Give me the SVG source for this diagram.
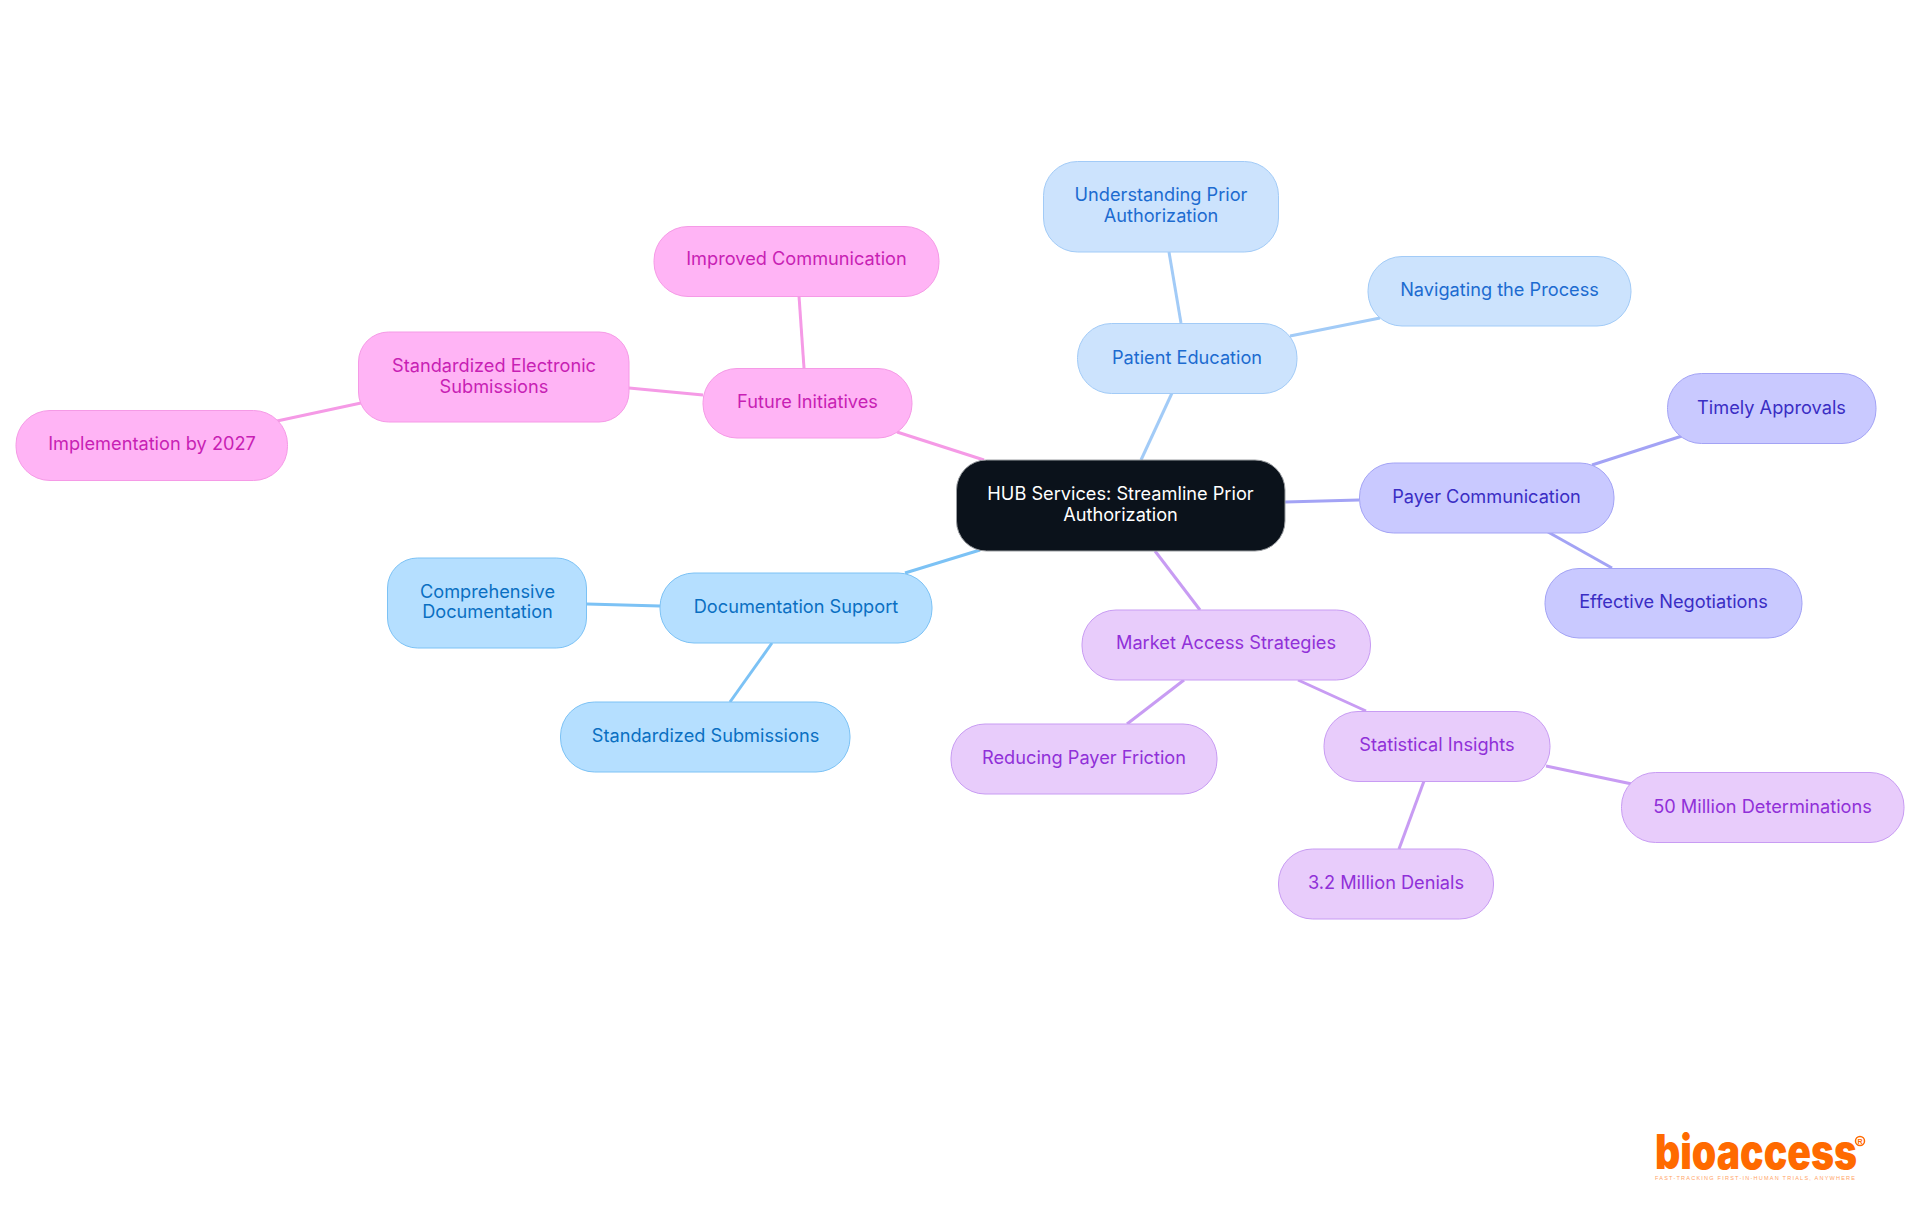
<svg xmlns="http://www.w3.org/2000/svg" width="1920" height="1215" viewBox="0 0 1920 1215">
<style>
text{font-family:"Inter","Noto Sans","Liberation Sans",sans-serif;font-size:18.2px;font-weight:400;text-anchor:middle}
.n rect{stroke-width:1}
#connectors line{stroke-width:3;fill:none}
.blue rect{fill:#cce3fd;stroke:#a2cbf7}.blue text{fill:#1c6bd0}
.ind rect{fill:#c9c9ff;stroke:#a3a3f5}.ind text{fill:#3a2dc4}
.pur rect{fill:#e8ccfb;stroke:#c89cf3}.pur text{fill:#9030d8}
.sky rect{fill:#b5dfff;stroke:#7cc2f5}.sky text{fill:#0a6fc2}
.pnk rect{fill:#ffb4f5;stroke:#f59ae6}.pnk text{fill:#c81fb4}
</style>
<rect width="1920" height="1215" fill="#fff"/>
<g id="connectors">
<g stroke="#a2cbf7"><line x1="1141" y1="460" x2="1172" y2="393"/><line x1="1181" y1="323" x2="1169" y2="252"/><line x1="1290" y1="336" x2="1380" y2="318"/></g>
<g stroke="#a3a3f5"><line x1="1285" y1="502" x2="1359" y2="500"/><line x1="1592" y1="465" x2="1682" y2="436"/><line x1="1548" y1="532" x2="1612" y2="568"/></g>
<g stroke="#c89cf3"><line x1="1155" y1="551" x2="1200" y2="610"/><line x1="1184" y1="680" x2="1127" y2="724"/><line x1="1298" y1="680" x2="1366" y2="711"/><line x1="1424" y1="781" x2="1399" y2="849"/><line x1="1546" y1="766" x2="1632" y2="784"/></g>
<g stroke="#7cc2f5"><line x1="980" y1="550" x2="905" y2="573"/><line x1="660" y1="606" x2="587" y2="604"/><line x1="772" y1="643" x2="730" y2="702"/></g>
<g stroke="#f59ae6"><line x1="984" y1="460" x2="897" y2="432"/><line x1="804" y1="368" x2="799" y2="296"/><line x1="703" y1="395" x2="629" y2="388"/><line x1="361" y1="403" x2="277" y2="421"/></g>
</g>
<g id="root" class="n"><rect x="956.500" y="460" width="328.500" height="91" rx="30" fill="#0b121b" stroke="#9a9da1"/><text fill="#ffffff" x="1120.500" y="499.500">HUB Services: Streamline Prior</text><text fill="#ffffff" x="1120.500" y="520.500">Authorization</text></g>
<g id="patient" class="n blue"><rect x="1077.500" y="323.500" width="219.500" height="70" rx="34"/><text x="1187" y="363.500">Patient Education</text></g>
<g id="understanding" class="n blue"><rect x="1043.500" y="161.500" width="235" height="90.500" rx="34"/><text x="1161" y="200.500">Understanding Prior</text><text x="1161" y="221.500">Authorization</text></g>
<g id="navigating" class="n blue"><rect x="1368" y="256.500" width="263" height="69.500" rx="34"/><text x="1499.500" y="295.500">Navigating the Process</text></g>
<g id="payer" class="n ind"><rect x="1359.500" y="463" width="254.500" height="70" rx="34"/><text x="1486.500" y="502.500">Payer Communication</text></g>
<g id="timely" class="n ind"><rect x="1667.500" y="373.500" width="208.500" height="70" rx="34"/><text x="1771.500" y="413.500">Timely Approvals</text></g>
<g id="effective" class="n ind"><rect x="1545" y="568.500" width="257" height="69.500" rx="34"/><text x="1673.500" y="607.500">Effective Negotiations</text></g>
<g id="market" class="n pur"><rect x="1082" y="610" width="288.500" height="70" rx="34"/><text x="1226" y="648.500">Market Access Strategies</text></g>
<g id="reducing" class="n pur"><rect x="951" y="724" width="266" height="70" rx="34"/><text x="1084" y="763.500">Reducing Payer Friction</text></g>
<g id="statistical" class="n pur"><rect x="1324" y="711.500" width="226" height="70" rx="34"/><text x="1437" y="750.500">Statistical Insights</text></g>
<g id="determinations" class="n pur"><rect x="1621.500" y="772.500" width="282.500" height="70" rx="34"/><text x="1762.500" y="812.500">50 Million Determinations</text></g>
<g id="denials" class="n pur"><rect x="1278.500" y="849" width="215" height="70" rx="34"/><text x="1386" y="888.500">3.2 Million Denials</text></g>
<g id="documentation" class="n sky"><rect x="660" y="573" width="272" height="70" rx="34"/><text x="796" y="612.500">Documentation Support</text></g>
<g id="comprehensive" class="n sky"><rect x="387.500" y="558" width="199" height="90" rx="30"/><text x="487.500" y="597.500">Comprehensive</text><text x="487.500" y="617.500">Documentation</text></g>
<g id="submissions" class="n sky"><rect x="560.500" y="702" width="289.500" height="70" rx="34"/><text x="705.500" y="741.500">Standardized Submissions</text></g>
<g id="future" class="n pnk"><rect x="703" y="368.500" width="209" height="69.500" rx="34"/><text x="807.500" y="407.500">Future Initiatives</text></g>
<g id="improved" class="n pnk"><rect x="654" y="226.500" width="285" height="70" rx="34"/><text x="796.500" y="265">Improved Communication</text></g>
<g id="electronic" class="n pnk"><rect x="358.500" y="332" width="270.500" height="90" rx="30"/><text x="494" y="371.500">Standardized Electronic</text><text x="494" y="392.500">Submissions</text></g>
<g id="implementation" class="n pnk"><rect x="16" y="410.500" width="271.500" height="70" rx="34"/><text x="152" y="449.500">Implementation by 2027</text></g>
<g id="logo">
<text x="1655" y="1169" style="font-family:'Inter','Liberation Sans',sans-serif;font-size:48px;font-weight:900;text-anchor:start" fill="#ff6a00" textLength="202" lengthAdjust="spacingAndGlyphs">bioaccess</text>
<circle cx="1860" cy="1141" r="4.500" fill="none" stroke="#ff6a00" stroke-width="1.500"/>
<text x="1860" y="1143.500" style="font-family:'Liberation Sans',sans-serif;font-size:7px;font-weight:700" fill="#ff6a00">R</text>
<text x="1655" y="1180" style="font-family:'Liberation Sans',sans-serif;font-size:5.500px;font-weight:400;text-anchor:start" fill="#ffa466" textLength="200">FAST-TRACKING FIRST-IN-HUMAN TRIALS, ANYWHERE</text>
</g>
</svg>
